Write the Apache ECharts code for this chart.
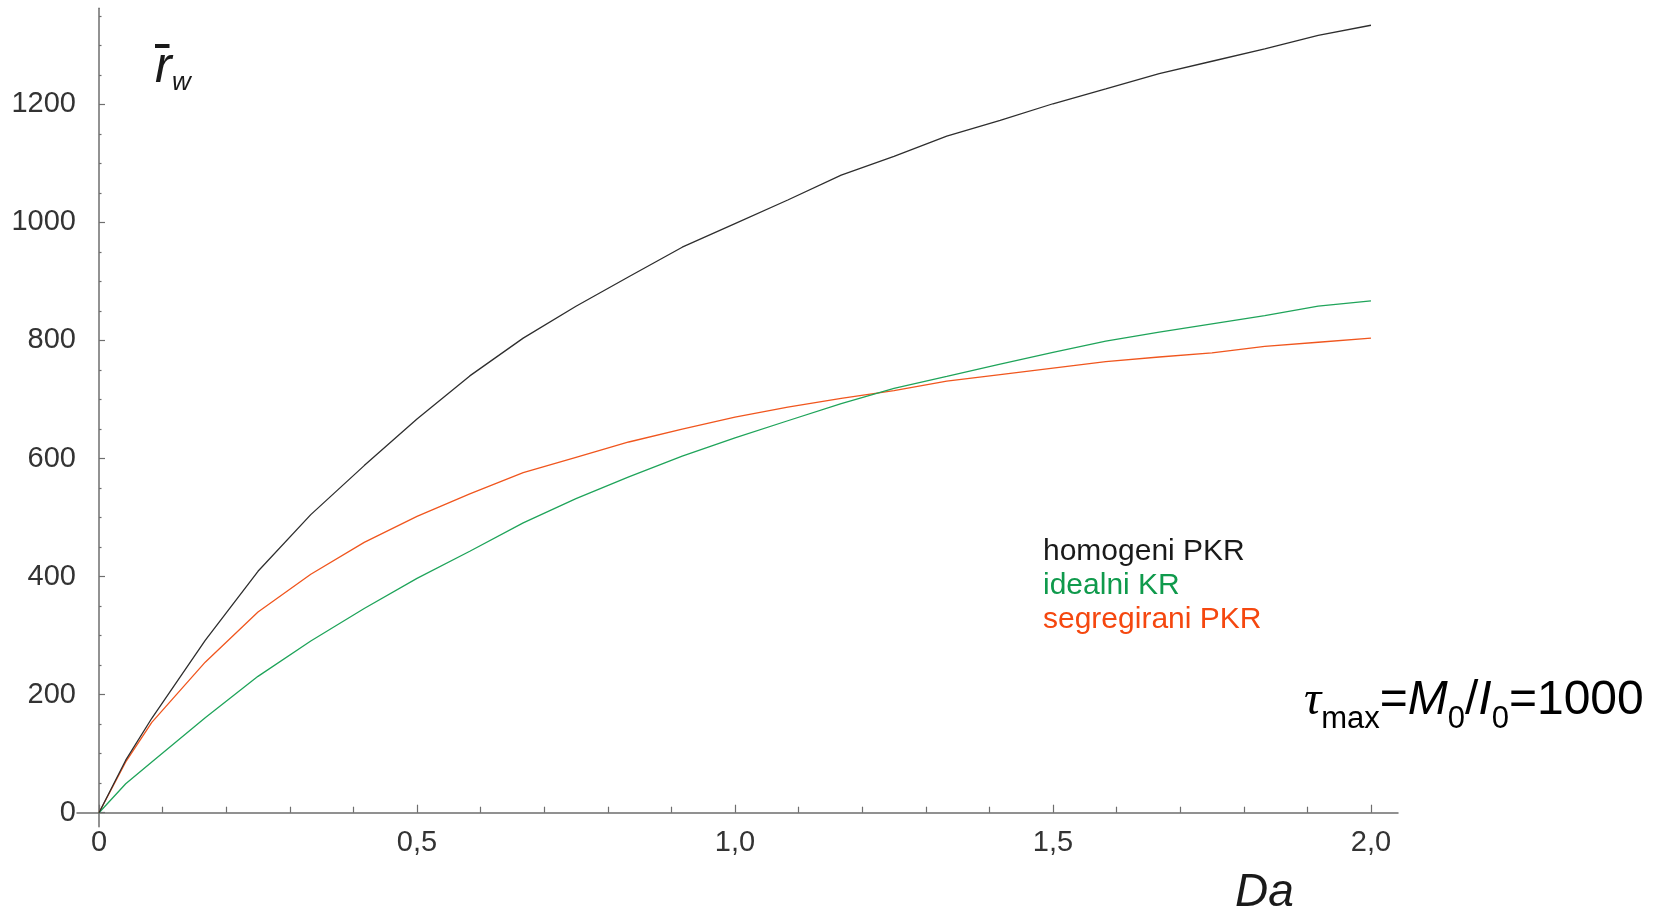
<!DOCTYPE html>
<html lang="sr">
<head>
  <meta charset="UTF-8">
  <title>r_w vs Da</title>
  <style>
    #container, html, body {
      margin: 0;
      padding: 0;
      height: 100%;
      width: 100%;
      background: #fff;
    }
  </style>
</head>
<body>
  <div id="container"></div>
</body>
<script src="https://cdn.jsdelivr.net/npm/echarts@6/dist/echarts.min.js"></script>
<script>
  // Da values (x) and curves
  var da = [0, 0.042, 0.083, 0.167, 0.25, 0.333, 0.417, 0.5, 0.583, 0.667, 0.75, 0.833, 0.917,
    1.0, 1.083, 1.167, 1.25, 1.333, 1.417, 1.5, 1.583, 1.667, 1.75, 1.833, 1.917, 2.0]
  var homogeni = [0, 89, 160, 292, 409, 505, 588, 667, 740, 804, 858, 908, 958,
    998, 1038, 1080, 1112, 1146, 1173, 1201, 1226, 1252, 1273, 1294, 1317, 1334]
  var idealni = [0, 49, 86, 161, 231, 291, 346, 397, 443, 491, 532, 569, 604,
    635, 664, 693, 719, 739, 760, 780, 799, 814, 828, 842, 858, 867]
  var segregirani = [0, 86, 153, 255, 340, 404, 458, 502, 540, 576, 602, 628, 650,
    670, 687, 702, 715, 731, 742, 753, 764, 772, 779, 790, 797, 804]

  // ticks
  var xMajor = [0, 0.5, 1, 1.5, 2]
  var xMinor = [0.1, 0.2, 0.3, 0.4, 0.6, 0.7, 0.8, 0.9, 1.1, 1.2, 1.3, 1.4, 1.6, 1.7, 1.8, 1.9]
  var yMajor = [0, 200, 400, 600, 800, 1000, 1200]
  var yMinor = [50, 100, 150, 250, 300, 350, 450, 500, 550, 650, 700, 750, 850, 900, 950,
    1050, 1100, 1150, 1250, 1300, 1350]

  var names = ['homogeni PKR', 'idealni KR', 'segregirani PKR']
  var lineColors = ['#2e2e2e', '#1fa45a', '#f0561e']
  var textColors = ['#1a1a1a', '#0f9a4c', '#f5470f']

  var FONT = 'Liberation Sans'
  var axisGray = '#6e6e6e'

  function pairs (ys) {
    return da.map(function (x, i) { return [x, ys[i]] })
  }

  function xAxisDef (ticks, len, labels) {
    return {
      type: 'value', min: -0.0346, max: 2.0425,
      position: 'bottom',
      axisLine: { show: labels, onZero: true, onZeroAxisIndex: 0, lineStyle: { color: axisGray, width: 1.5 } },
      axisTick: { show: true, inside: true, length: len, customValues: ticks, lineStyle: { color: axisGray, width: 1.2 } },
      axisLabel: {
        show: labels, customValues: xMajor, margin: 2,
        fontSize: 29, fontFamily: FONT, color: '#333',
        formatter: function (v) { return v === 0 ? '0' : v.toFixed(1).replace('.', ',') }
      },
      splitLine: { show: false }
    }
  }

  function yAxisDef (ticks, len, labels) {
    return {
      type: 'value', min: -23.7, max: 1362.7,
      position: 'left',
      axisLine: { show: labels, onZero: true, onZeroAxisIndex: 0, lineStyle: { color: axisGray, width: 1.5 } },
      axisTick: { show: true, inside: true, length: len, customValues: ticks, lineStyle: { color: axisGray, width: 1.2 } },
      axisLabel: {
        show: labels, customValues: yMajor, margin: 1,
        fontSize: 29, fontFamily: FONT, color: '#333',
        formatter: function (v) { return String(v) }
      },
      splitLine: { show: false }
    }
  }

  window.onload = function () {
    var chart = echarts.init(document.querySelector('#container'))
    var option = {
      animation: false,
      backgroundColor: '#fff',
      grid: { left: 77, right: 259, top: 8.3, bottom: 83.3, containLabel: false, outerBoundsMode: 'none' },
      xAxis: [xAxisDef(xMajor, 8, true), xAxisDef(xMinor, 6, false)],
      yAxis: [yAxisDef(yMajor, 6, true), yAxisDef(yMinor, 2.5, false)],
      legend: {
        orient: 'vertical',
        left: 1033,
        top: 532,
        icon: 'none',
        itemWidth: 0,
        itemHeight: 30,
        itemGap: 4,
        selectedMode: false,
        textStyle: { fontSize: 30, fontFamily: FONT },
        data: names.map(function (n, i) {
          return { name: n, textStyle: { color: textColors[i] } }
        })
      },
      series: [homogeni, idealni, segregirani].map(function (ys, i) {
        return {
          name: names[i],
          type: 'line',
          data: pairs(ys),
          showSymbol: false,
          symbol: 'none',
          lineStyle: { color: lineColors[i], width: 1.3 },
          itemStyle: { color: lineColors[i] },
          z: 3 - i
        }
      }),
      graphic: [
        // r with bar, subscript w
        { type: 'rect', shape: { x: 155, y: 44, width: 14.5, height: 4 }, style: { fill: '#1a1a1a' } },
        { type: 'text', style: { x: 155, y: 68, text: 'r', font: 'italic 50px "Liberation Sans"', fill: '#1a1a1a', verticalAlign: 'middle' } },
        { type: 'text', style: { x: 172, y: 83, text: 'w', font: 'italic 26px "Liberation Sans"', fill: '#1a1a1a', verticalAlign: 'middle' } },
        // x axis name
        { type: 'text', style: { x: 1235, y: 893, text: 'Da', font: 'italic 46px "Liberation Sans"', fill: '#1a1a1a', verticalAlign: 'middle' } },
        // tau_max = M0/I0 = 1000
        {
          type: 'text',
          style: {
            x: 1304, y: 677,
            verticalAlign: 'top',
            text: '{t|τ}{s|max}{n|=}{i|M}{s|0}{n|/}{i|I}{s|0}{n|=1000}',
            fill: '#000',
            rich: {
              t: { fontSize: 48, fontFamily: 'Liberation Serif', fontStyle: 'italic', lineHeight: 48, verticalAlign: 'top', fill: '#000' },
              n: { fontSize: 48, fontFamily: FONT, lineHeight: 48, verticalAlign: 'top', fill: '#000' },
              i: { fontSize: 48, fontFamily: FONT, fontStyle: 'italic', lineHeight: 48, verticalAlign: 'top', fill: '#000' },
              s: { fontSize: 31, fontFamily: FONT, lineHeight: 31, padding: [27, 0, 0, 0], verticalAlign: 'top', fill: '#000' }
            }
          }
        }
      ]
    }
    chart.setOption(option)
    window.onresize = chart.resize
  }
</script>
</html>
